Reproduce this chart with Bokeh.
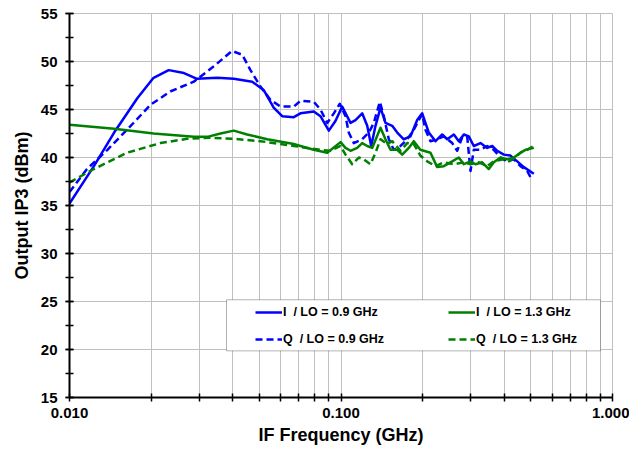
from bokeh.plotting import figure
from bokeh.models import (Legend, LegendItem, BoxAnnotation, FixedTicker,
                          PrintfTickFormatter, Range1d)
from bokeh.embed import file_html
from bokeh.resources import INLINE

# ---- data (IF frequency in GHz, Output IP3 in dBm) ----
i09_f = [0.0100, 0.0123, 0.0146, 0.0178, 0.0204, 0.0232, 0.0264, 0.0295, 0.0350, 0.0403,
         0.0471, 0.0520, 0.0565, 0.0607, 0.0670, 0.0709, 0.0794, 0.0840, 0.0902, 0.0954,
         0.1010, 0.1084, 0.1131, 0.1197, 0.1249, 0.1292, 0.1340, 0.1398, 0.1458, 0.1544,
         0.1611, 0.1703, 0.1803, 0.1908, 0.1991, 0.2106, 0.2229, 0.2359, 0.2461, 0.2604,
         0.2716, 0.2834, 0.2956, 0.3084, 0.3264, 0.3455, 0.3606, 0.3761, 0.3978, 0.4210,
         0.4457, 0.4714, 0.5131]
i09_db = [35.2, 39.1, 42.6, 46.2, 48.3, 49.1, 48.8, 48.2, 48.3, 48.2,
          47.9, 47.0, 45.2, 44.3, 44.2, 44.6, 44.8, 44.3, 42.8, 43.8,
          45.3, 43.6, 43.9, 44.6, 43.3, 41.2, 43.3, 45.2, 43.6, 43.3,
          42.6, 41.9, 42.2, 43.9, 44.6, 42.6, 41.7, 42.4, 41.9, 42.4,
          41.7, 42.4, 42.2, 41.2, 41.5, 41.0, 41.2, 40.7, 40.3, 40.2,
          39.6, 39.0, 38.3]

q09_f = [0.0100, 0.0116, 0.0138, 0.0163, 0.0199, 0.0236, 0.0287, 0.0340, 0.0397, 0.0433,
         0.0464, 0.0505, 0.0550, 0.0599, 0.0670, 0.0709, 0.0794, 0.0840, 0.0890, 0.0941,
         0.0990, 0.1039, 0.1068, 0.1115, 0.1197, 0.1266, 0.1321, 0.1390, 0.1438, 0.1500,
         0.1565, 0.1657, 0.1753, 0.1854, 0.1934, 0.1991, 0.2047, 0.2136, 0.2261, 0.2391,
         0.2568, 0.2679, 0.2795, 0.2916, 0.2999, 0.3084, 0.3264, 0.3455, 0.3655, 0.3868,
         0.4095, 0.4330, 0.4583, 0.4851, 0.5062]
q09_db = [36.4, 38.8, 40.8, 42.9, 45.5, 46.9, 47.9, 49.5, 51.1, 50.7,
          49.1, 47.4, 46.0, 45.3, 45.3, 45.9, 45.8, 45.0, 43.6, 44.6,
          45.6, 44.3, 42.6, 41.5, 41.9, 42.6, 43.6, 45.8, 44.3, 41.9,
          40.8, 41.2, 41.9, 42.9, 43.9, 44.5, 42.9, 41.7, 41.9, 42.2,
          41.5, 40.7, 42.1, 42.2, 38.6, 40.8, 40.8, 41.2, 40.8, 40.0,
          39.6, 39.8, 39.1, 38.6, 37.6]

i13_f = [0.0100, 0.0146, 0.0204, 0.0287, 0.0322, 0.0360, 0.0403, 0.0451, 0.0535, 0.0670,
         0.0709, 0.0794, 0.0890, 0.0996, 0.1039, 0.1084, 0.1147, 0.1197, 0.1249, 0.1303,
         0.1398, 0.1458, 0.1522, 0.1611, 0.1681, 0.1777, 0.1854, 0.1960, 0.2136, 0.2261,
         0.2391, 0.2568, 0.2716, 0.2834, 0.2999, 0.3129, 0.3312, 0.3503, 0.3655, 0.3868,
         0.4095, 0.4330, 0.4583, 0.4782, 0.5131]
i13_db = [43.4, 43.0, 42.5, 42.15, 42.15, 42.5, 42.8, 42.4, 41.9, 41.4,
          41.2, 40.8, 40.5, 41.6, 41.0, 40.7, 41.0, 41.5, 41.2, 41.0,
          43.1, 41.9, 40.8, 40.8, 40.3, 41.0, 41.7, 40.8, 40.5, 39.0,
          39.1, 39.6, 40.0, 39.3, 39.6, 39.3, 39.5, 38.8, 39.5, 40.0,
          39.8, 40.0, 40.5, 40.8, 41.0]

q13_f = [0.0100, 0.0123, 0.0163, 0.0216, 0.0271, 0.0331, 0.0403, 0.0505, 0.0670, 0.0840,
         0.0915, 0.0996, 0.1039, 0.1100, 0.1163, 0.1213, 0.1284, 0.1340, 0.1398, 0.1479,
         0.1544, 0.1657, 0.1753, 0.1854, 0.1960, 0.2077, 0.2229, 0.2391, 0.2604, 0.2834,
         0.2999, 0.3218, 0.3455, 0.3655, 0.3924, 0.4150, 0.4392, 0.4583, 0.4851, 0.5131]
q13_db = [37.4, 38.8, 40.5, 41.5, 41.95, 42.05, 41.95, 41.7, 41.2, 40.8,
          40.7, 41.2, 40.3, 39.3, 40.0, 39.8, 39.3, 40.5, 41.9, 41.4,
          41.7, 40.7, 41.5, 41.4, 40.2, 39.6, 39.1, 39.5, 39.3, 39.5,
          39.3, 39.5, 39.1, 39.6, 39.8, 39.6, 40.0, 40.5, 40.8, 41.2]

x_major = [0.01, 0.1, 1.0]
x_minor = [0.02, 0.03, 0.04, 0.05, 0.06, 0.07, 0.08, 0.09,
           0.2, 0.3, 0.4, 0.5, 0.6, 0.7, 0.8, 0.9]
y_major = [15, 20, 25, 30, 35, 40, 45, 50, 55]
y_minor = [15, 17.5, 20, 22.5, 25, 27.5, 30, 32.5, 35, 37.5, 40, 42.5, 45, 47.5, 50, 52.5, 55]

labels = ["I  / LO = 0.9 GHz", "Q  / LO = 0.9 GHz", "I  / LO = 1.3 GHz", "Q  / LO = 1.3 GHz"]

FONT = "Liberation Sans"
BLUE = "#0000FF"
GREEN = "#008000"

p = figure(width=629, height=447, x_axis_type="log",
           x_range=Range1d(0.01, 1.0), y_range=Range1d(15, 55),
           output_backend="svg", toolbar_location=None,
           min_border_left=69, min_border_right=17, min_border_top=13, min_border_bottom=47)
p.background_fill_color = "white"
p.border_fill_color = "white"
p.outline_line_color = "#bfbfbf"
p.outline_line_width = 1

# grids
p.xgrid.ticker = FixedTicker(ticks=x_major, minor_ticks=x_minor)
p.ygrid.ticker = FixedTicker(ticks=y_major, minor_ticks=y_minor)
p.xgrid.grid_line_color = "#c0c0c0"
p.xgrid.minor_grid_line_color = "#c0c0c0"
p.ygrid.grid_line_color = "#c0c0c0"
p.xgrid.grid_line_width = 1
p.xgrid.minor_grid_line_width = 1
p.ygrid.grid_line_width = 1

# axes
p.xaxis.ticker = FixedTicker(ticks=x_major, minor_ticks=x_minor)
p.yaxis.ticker = FixedTicker(ticks=y_major, minor_ticks=y_minor)
p.xaxis.formatter = PrintfTickFormatter(format="%.3f")
p.yaxis.formatter = PrintfTickFormatter(format="%d")
for ax in (p.xaxis[0], p.yaxis[0]):
    ax.axis_line_color = "black"
    ax.axis_line_width = 2
    ax.major_tick_line_color = "black"
    ax.minor_tick_line_color = "black"
    ax.major_tick_line_width = 1.5
    ax.minor_tick_line_width = 1.5
    ax.major_tick_in = 4
    ax.major_tick_out = 4
    ax.minor_tick_in = 4
    ax.minor_tick_out = 4
    ax.major_label_text_font = FONT
    ax.major_label_text_font_style = "bold"
    ax.major_label_text_font_size = "15px"
    ax.major_label_text_color = "black"
    ax.axis_label_text_font = FONT
    ax.axis_label_text_font_style = "bold"
    ax.axis_label_text_font_size = "18px"
    ax.axis_label_text_color = "black"
p.xaxis.axis_label = "IF Frequency (GHz)"
p.yaxis.axis_label = "Output IP3 (dBm)"
p.xaxis.major_label_standoff = 6
p.yaxis.major_label_standoff = 8
p.xaxis.axis_label_standoff = 4
p.yaxis.axis_label_standoff = 6

# curves
r1 = p.line(i09_f, i09_db, line_color=BLUE, line_width=2.5, line_join="round")
r2 = p.line(q09_f, q09_db, line_color=BLUE, line_width=2.5, line_dash="7 4", line_join="round")
r3 = p.line(i13_f, i13_db, line_color=GREEN, line_width=2.5, line_join="round")
r4 = p.line(q13_f, q13_db, line_color=GREEN, line_width=2.5, line_dash="7 4", line_join="round")

# legend frame (layout, in frame pixels converted to axis coordinates)
fw, fh = 543.0, 387.0
def px_to_x(px):
    return 0.01 * 10 ** (2.0 * px / fw)
def px_to_y(py):
    return 15 + 40.0 * py / fh
box = BoxAnnotation(left=px_to_x(157), right=px_to_x(531),
                    bottom=px_to_y(47), top=px_to_y(98.5),
                    fill_color="white", fill_alpha=1.0,
                    line_color="black", line_width=1, level="overlay")
p.add_layout(box)

legend = Legend(items=[LegendItem(label=labels[0], renderers=[r1]),
                       LegendItem(label=labels[1], renderers=[r2]),
                       LegendItem(label=labels[2], renderers=[r3]),
                       LegendItem(label=labels[3], renderers=[r4])],
                location=(186, 48), ncols=2,
                border_line_color=None, background_fill_alpha=0.0,
                padding=0, margin=0, spacing=7,
                glyph_width=27, glyph_height=20, label_height=20,
                label_standoff=1, label_width=158,
                label_text_font=FONT, label_text_font_style="bold",
                label_text_font_size="12.5px", label_text_color="black")
p.add_layout(legend, "center")

open("out.html", "w").write(file_html(p, INLINE))
